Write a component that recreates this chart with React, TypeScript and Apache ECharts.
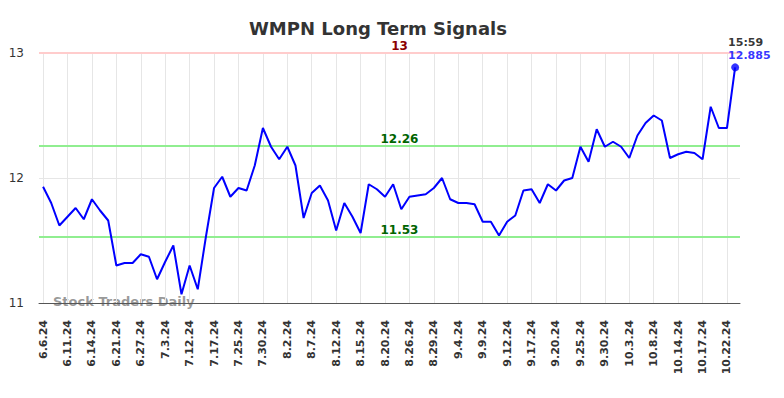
import React, { useEffect, useRef } from "react";
import * as echarts from "echarts";

const dates: string[] = [
  "6.6.24", "6.7.24", "6.10.24", "6.11.24", "6.12.24", "6.13.24", "6.14.24", "6.17.24", "6.20.24", "6.21.24",
  "6.24.24", "6.26.24", "6.27.24", "6.28.24", "7.2.24", "7.3.24", "7.5.24", "7.9.24", "7.12.24", "7.15.24",
  "7.16.24", "7.17.24", "7.19.24", "7.23.24", "7.25.24", "7.26.24", "7.29.24", "7.30.24", "7.31.24", "8.1.24",
  "8.2.24", "8.5.24", "8.6.24", "8.7.24", "8.8.24", "8.9.24", "8.12.24", "8.13.24", "8.14.24", "8.15.24",
  "8.16.24", "8.19.24", "8.20.24", "8.21.24", "8.23.24", "8.26.24", "8.27.24", "8.28.24", "8.29.24", "8.30.24",
  "9.3.24", "9.4.24", "9.5.24", "9.6.24", "9.9.24", "9.10.24", "9.11.24", "9.12.24", "9.13.24", "9.16.24",
  "9.17.24", "9.18.24", "9.19.24", "9.20.24", "9.23.24", "9.24.24", "9.25.24", "9.26.24", "9.27.24", "9.30.24",
  "10.1.24", "10.2.24", "10.3.24", "10.4.24", "10.7.24", "10.8.24", "10.9.24", "10.10.24", "10.14.24", "10.15.24",
  "10.16.24", "10.17.24", "10.18.24", "10.21.24", "10.22.24", "10.23.24",
];

const prices: number[] = [
  11.93, 11.80, 11.62, 11.69, 11.76, 11.67, 11.83, 11.74, 11.66, 11.30,
  11.32, 11.32, 11.39, 11.37, 11.19, 11.33, 11.46, 11.07, 11.30, 11.11,
  11.53, 11.92, 12.01, 11.85, 11.92, 11.90, 12.10, 12.40, 12.25, 12.15,
  12.25, 12.10, 11.68, 11.88, 11.94, 11.82, 11.58, 11.80, 11.69, 11.56,
  11.95, 11.91, 11.85, 11.95, 11.75, 11.85, 11.86, 11.87, 11.92, 12.00,
  11.83, 11.80, 11.80, 11.79, 11.65, 11.65, 11.54, 11.65, 11.70, 11.90,
  11.91, 11.80, 11.95, 11.90, 11.98, 12.00, 12.25, 12.13, 12.39, 12.25,
  12.29, 12.25, 12.16, 12.34, 12.44, 12.50, 12.46, 12.16, 12.19, 12.21,
  12.20, 12.15, 12.57, 12.40, 12.40, 12.885,
];

const labelIndices: number[] = [
  0, 3, 6, 9, 12, 15, 18, 21, 24, 27, 30, 33, 36, 39, 42, 45, 48, 51, 54, 57,
  60, 63, 66, 69, 72, 75, 78, 81, 84,
];

const upperSignal = 13;
const resistance = 12.26;
const support = 11.53;
const lastTime = "15:59";
const yTicks: number[] = [11, 12, 13];

const FONT = "DejaVu Sans";

export default function App() {
  const ref = useRef<HTMLDivElement>(null);
  useEffect(() => {
    if (!ref.current) return;
    const chart = echarts.init(ref.current, null, { renderer: "svg" });
    const seriesData = prices.map((v, i) => [i, v]);
    const lastIdx = prices.length - 1;
    const lastVal = prices[lastIdx];

    const hLine = (value: number, color: string, labelColor: string) => ({
      yAxis: value,
      lineStyle: { color, width: 2, type: "solid" },
      label: {
        show: true,
        position: "insideMiddleTop",
        formatter: String(value),
        color: labelColor,
        fontFamily: FONT,
        fontWeight: "bold",
        fontSize: 12,
        distance: 1,
        padding: [0, 0, 0, 20],
      },
    });

    chart.setOption({
      animation: false,
      textStyle: { fontFamily: FONT },
      title: {
        text: "WMPN Long Term Signals",
        left: 244,
        top: 14,
        textStyle: { fontFamily: FONT, fontWeight: "bold", fontSize: 18, color: "#333" },
      },
      grid: { left: 39, right: 44, top: 53, bottom: 95 },
      xAxis: {
        type: "value",
        min: -0.5,
        max: 85.6,
        axisLine: { show: true, onZero: false, lineStyle: { color: "#555", width: 1 } },
        axisTick: { show: false, customValues: labelIndices },
        axisLabel: {
          customValues: labelIndices,
          rotate: 90,
          margin: 17,
          fontSize: 11,
          fontWeight: "bold",
          color: "#333",
          fontFamily: FONT,
          formatter: (v: number) => dates[Math.round(v)] ?? "",
        },
        splitLine: { show: true, lineStyle: { color: "#e6e6e6", width: 1 } },
      },
      yAxis: {
        type: "value",
        min: 11,
        max: 13,
        interval: 1,
        axisLine: { show: false },
        axisTick: { show: false },
        axisLabel: {
          margin: 15,
          fontSize: 12,
          color: "#333",
          fontFamily: FONT,
          customValues: yTicks,
        },
        splitLine: { show: true, lineStyle: { color: "#e6e6e6", width: 1 } },
      },
      graphic: [
        {
          type: "text",
          left: 53,
          top: 295,
          silent: true,
          style: {
            text: "Stock Traders Daily",
            fill: "rgba(120,120,120,0.75)",
            font: `bold 13px "${FONT}"`,
          },
        },
      ],
      series: [
        {
          type: "line",
          data: seriesData,
          symbol: "none",
          lineStyle: { color: "#0000ff", width: 2 },
          z: 3,
          markLine: {
            silent: true,
            symbol: ["none", "none"],
            z: 2,
            data: [
              hLine(upperSignal, "#ffcccc", "#8b0000"),
              hLine(resistance, "#90ee90", "#006400"),
              hLine(support, "#90ee90", "#006400"),
            ],
          },
        },
        {
          type: "scatter",
          data: [[lastIdx, lastVal]],
          symbol: "circle",
          symbolSize: 8,
          itemStyle: { color: "#0000ff" },
          z: 4,
          label: {
            show: true,
            position: [-3, -27],
            align: "left",
            formatter: `{t|${lastTime}}\n{v|${lastVal}}`,
            rich: {
              t: { color: "#000", fontWeight: "bold", fontSize: 11, fontFamily: FONT, lineHeight: 13 },
              v: { color: "#0000ff", fontWeight: "bold", fontSize: 11, fontFamily: FONT, lineHeight: 13 },
            },
          },
        },
      ],
    });
    return () => chart.dispose();
  }, []);
  return (
    <div
      ref={ref}
      style={{ position: "fixed", left: 0, top: 0, width: 784, height: 398, background: "#fff" }}
    />
  );
}
